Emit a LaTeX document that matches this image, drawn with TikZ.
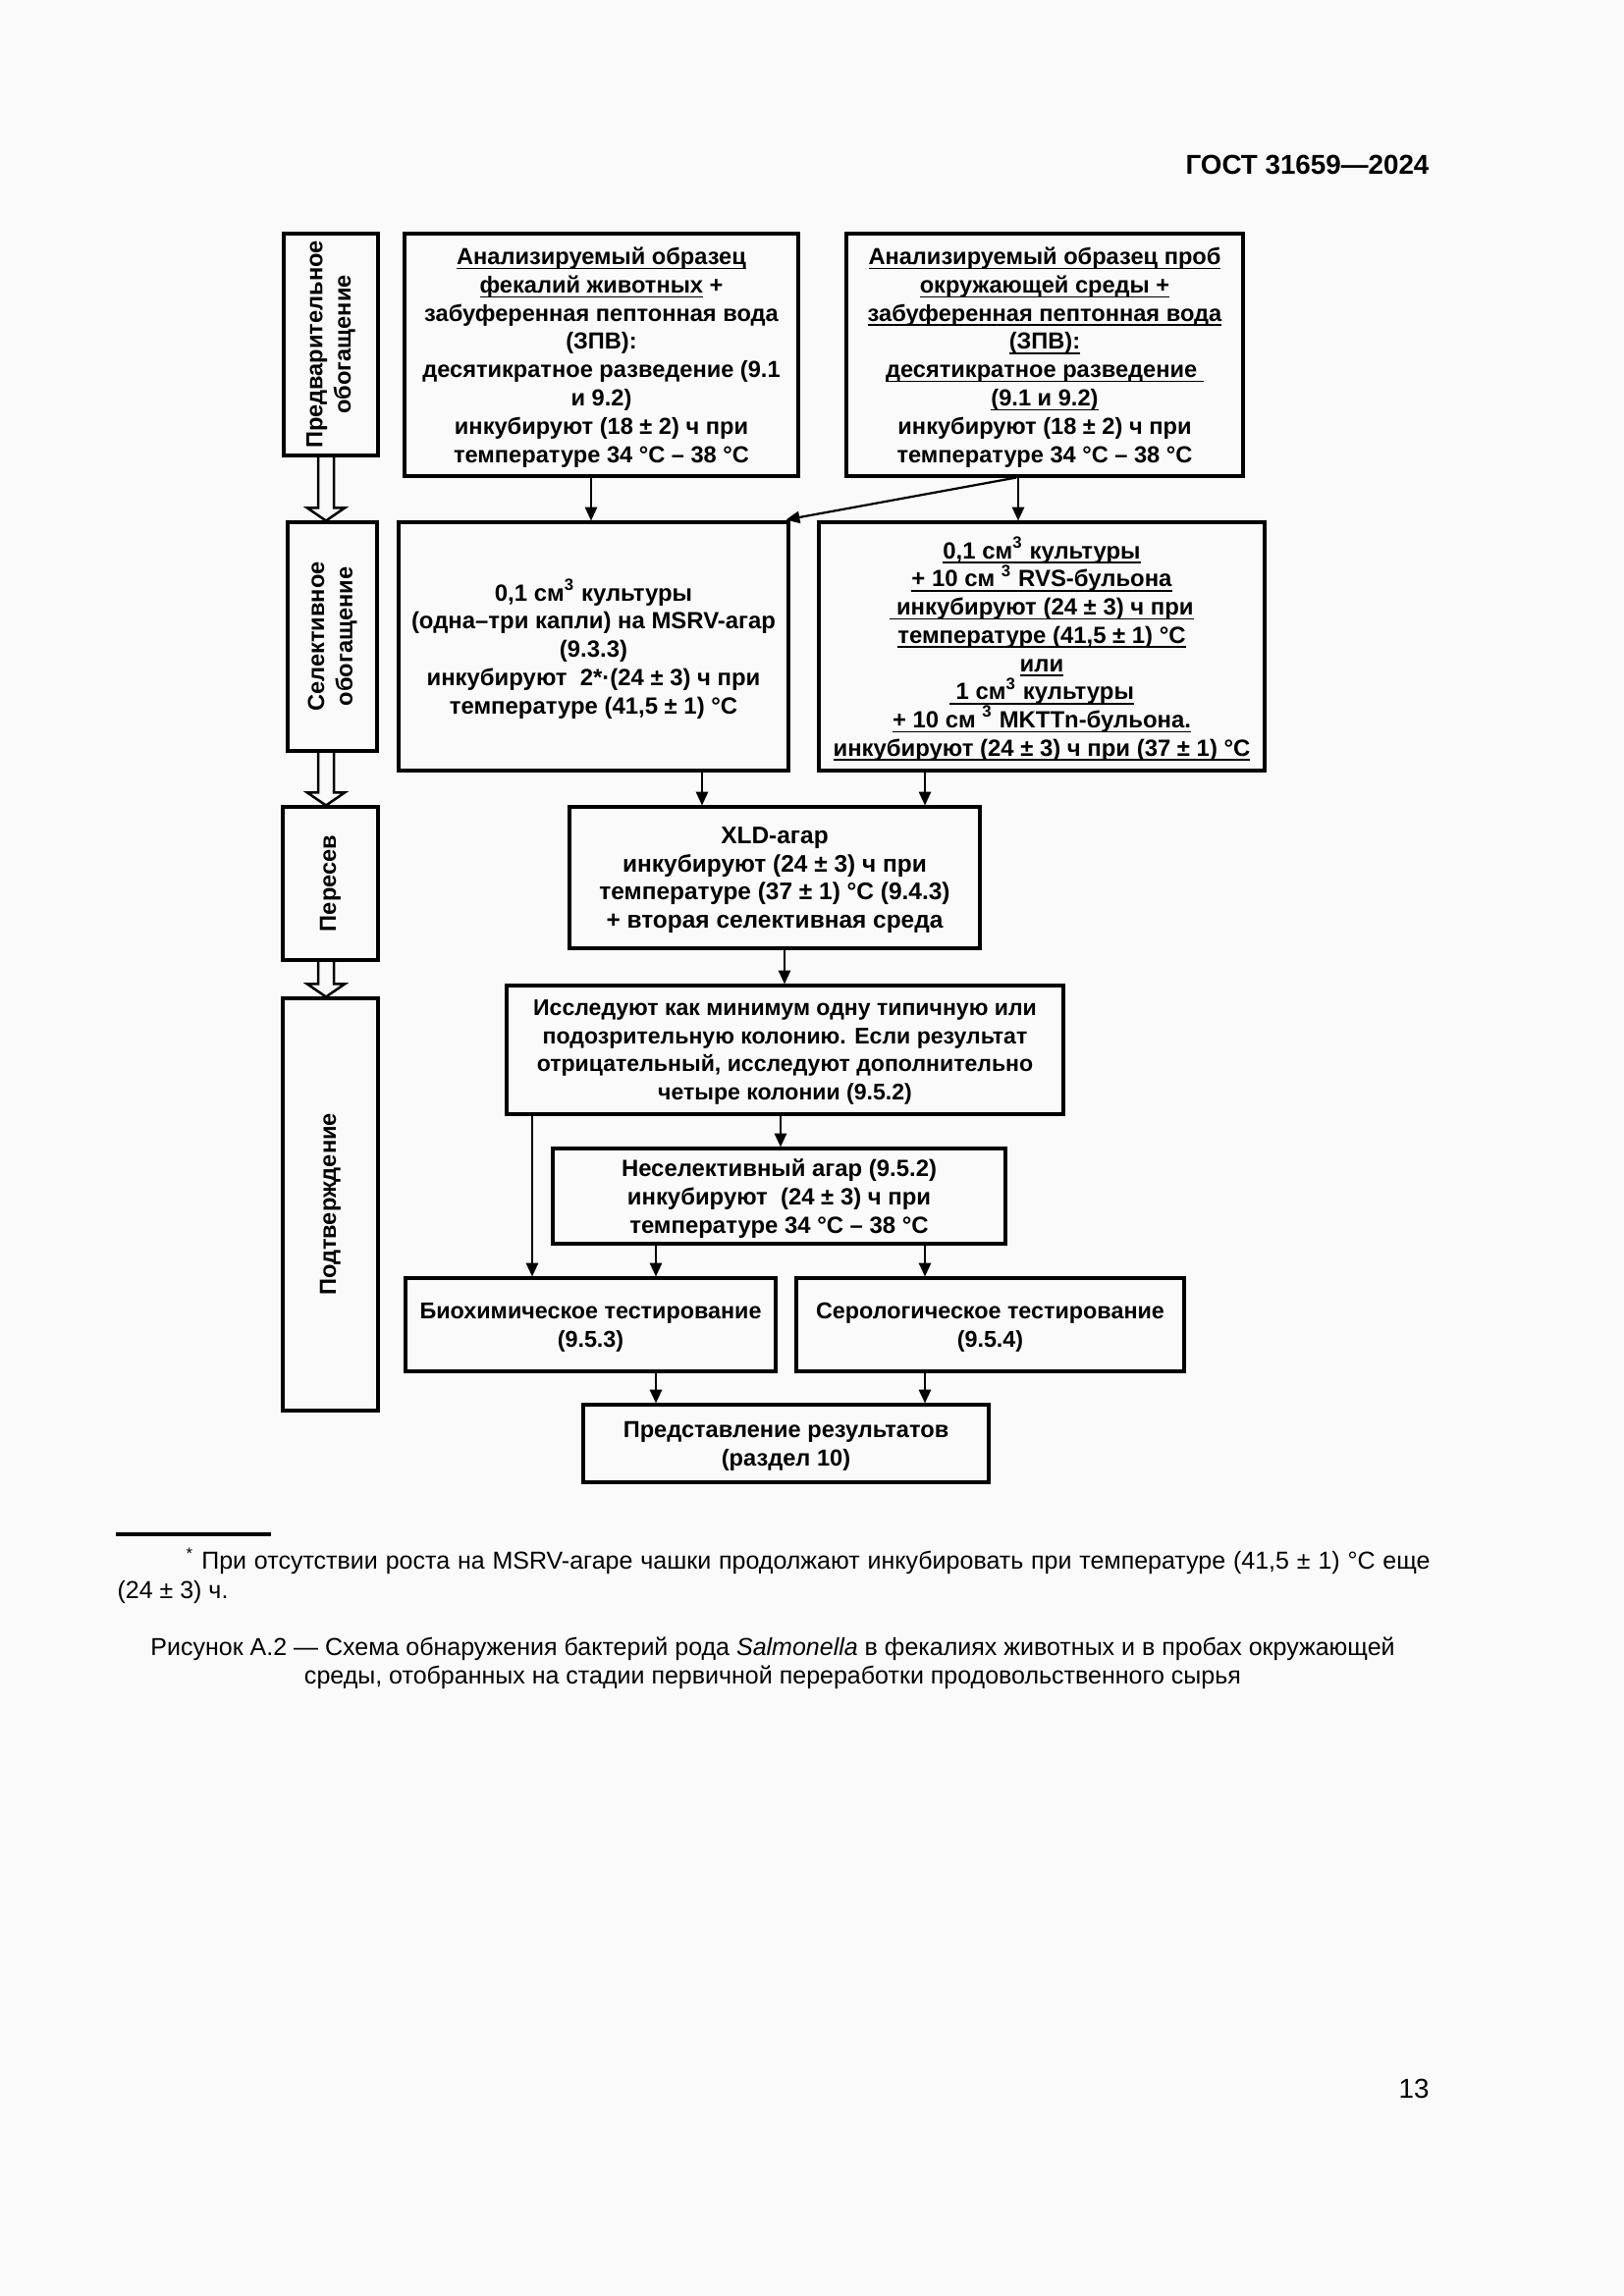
\documentclass[tikz,border=0pt]{standalone}
\usepackage{fontspec}
\setmainfont{Liberation Sans}
\usetikzlibrary{fit,calc,arrows.meta}
\newcommand\uln[1]{\leavevmode\setbox0\hbox{#1}\rlap{\vrule depth 1.7pt height -1.1pt width\wd0}\box0\relax}
\newcommand\fs[1]{\fontsize{#1}{10.35}\selectfont\bfseries}
\begin{document}
\begin{tikzpicture}[x=0.3599pt,y=-0.3599pt,
  box/.style={draw, line width=1.1pt, inner sep=0pt},
  txt/.style={align=center, font=\fs{8.5}, inner sep=0pt},
  htxt/.style={txt, yshift=-0.9pt},
  arr/.style={line width=0.8pt, -{Triangle[length=5pt,width=4.4pt]}},
  dbl/.style={line width=0.9pt, line join=miter},
]
\fill[black!2] (0,0) rectangle (1654,2339);
\useasboundingbox (0,0) rectangle (1654,2339);

% header and page number
\node[anchor=base east, font=\fontsize{10}{12}\selectfont\bfseries, inner sep=0] (hdr) at (1456,177) {ГОСТ 31659—2024};
\node[anchor=base east, font=\fontsize{10}{12}\selectfont, inner sep=0] (pg) at (1456,2137) {13};

% left column
\node[box, fit={(289,238)(385,464)}] (L1) {};
\node[txt, rotate=90] (L1t) at (L1.center) {Предварительное\\обогащение};
\node[box, fit={(293,532)(384,765)}] (L2) {};
\node[txt, rotate=90] (L2t) at (L2.center) {Селективное\\обогащение};
\node[box, fit={(288,822)(385,978)}] (L3) {};
\node[txt, rotate=90] (L3t) at (L3.center) {Пересев};
\node[box, fit={(288,1017)(385,1437)}] (L4) {};
\node[txt, rotate=90] (L4t) at (L4.center) {Подтверждение};

\coordinate (dx) at (332,0);
\newcommand\hollowarrow[2]{%
  \draw[dbl] ($(dx |- #1.south)+(-8,0)$) -- ($(dx |- #2.north)+(-8,-13)$) -- ($(dx |- #2.north)+(-19,-13)$) -- (dx |- #2.north) -- ($(dx |- #2.north)+(19,-13)$) -- ($(dx |- #2.north)+(8,-13)$) -- ($(dx |- #1.south)+(8,0)$);}
\hollowarrow{L1}{L2}
\hollowarrow{L2}{L3}
\hollowarrow{L3}{L4}

% main boxes
\node[box, fit={(412,238)(813,485)}] (A) {};
\node[htxt] (At) at (A.center) {\uln{Анализируемый образец}\\
\uln{фекалий животных} +\\
забуференная пептонная вода\\
(ЗПВ):\\
десятикратное разведение (9.1\\
и 9.2)\\
инкубируют (18 ± 2) ч при\\
температуре 34 °C – 38 °C};

\node[box, fit={(862,238)(1266,485)}] (B) {};
\node[htxt] (Bt) at (B.center) {\uln{Анализируемый образец проб}\\
\uln{окружающей среды +}\\
\uln{забуференная пептонная вода}\\
\uln{(ЗПВ):}\\
\uln{десятикратное разведение\ }\\
\uln{(9.1 и 9.2)}\\
инкубируют (18 ± 2) ч при\\
температуре 34 °C – 38 °C};

\node[box, fit={(406,532)(803,785)}] (C) {};
\node[htxt, font=\fs{8.6}] (Ct) at (C.center) {0,1 см\textsuperscript{3} культуры\\
(одна–три капли) на MSRV-агар\\
(9.3.3)\\
инкубируют\ \ 2*·(24 ± 3) ч при\\
температуре (41,5 ± 1) °C};

\node[box, fit={(834,532)(1288,785)}] (D) {};
\node[htxt, font=\fs{8.6}] (Dt) at (D.center) {\uln{0,1 см\textsuperscript{3} культуры}\\
\uln{+ 10 см \textsuperscript{3} RVS-бульона}\\
\uln{\ инкубируют (24 ± 3) ч при}\\
\uln{температуре (41,5 ± 1) °C}\\
\uln{или}\\
\uln{\ 1 см\textsuperscript{3} культуры}\\
\uln{+ 10 см \textsuperscript{3} MKTTn-бульона.}\\
\uln{инкубируют (24 ± 3) ч при (37 ± 1) °C}};

\node[box, fit={(580,822)(998,966)}] (E) {};
\node[htxt, font=\fs{8.8}] (Et) at (E.center) {XLD-агар\\
инкубируют (24 ± 3) ч при\\
температуре (37 ± 1) °C (9.4.3)\\
+ вторая селективная среда};

\node[box, fit={(516,1004)(1083,1135)}] (F) {};
\node[htxt, font=\fs{8.3}] (Ft) at (F.center) {Исследуют как минимум одну типичную или\\
подозрительную колонию. Если результат\\
отрицательный, исследуют дополнительно\\
четыре колонии (9.5.2)};

\node[box, fit={(563,1170)(1024,1267)}] (G) {};
\node[htxt, font=\fs{8.6}] (Gt) at (G.center) {Неселективный агар (9.5.2)\\
инкубируют\ \ (24 ± 3) ч при\\
температуре 34 °C – 38 °C};

\node[box, fit={(413,1302)(790,1397)}] (H) {};
\node[htxt, font=\fs{8.4}] (Ht) at (H.center) {Биохимическое тестирование\\(9.5.3)};
\node[box, fit={(811,1302)(1206,1397)}] (I) {};
\node[htxt, font=\fs{8.4}] (It) at (I.center) {Серологическое тестирование\\(9.5.4)};
\node[box, fit={(594,1431)(1007,1510)}] (J) {};
\node[htxt, font=\fs{8.5}] (Jt) at (J.center) {Представление результатов\\(раздел 10)};

% arrow x positions
\coordinate (xa) at (602,0);
\coordinate (xb) at (1037,0);
\coordinate (xc) at (715,0);
\coordinate (xd) at (942,0);
\coordinate (xe) at (799,0);
\coordinate (xf) at (795,0);
\coordinate (xg) at (542,0);
\coordinate (xh) at (668,0);

\draw[arr] (A.south -| xa) -- (C.north -| xa);
\draw[arr] (B.south -| xb) -- (D.north -| xb);
\draw[arr] ($(B.south -| xb)+(-2,0)$) -- ($(C.north east)+(-4,-1)$);
\draw[arr] (C.south -| xc) -- (E.north -| xc);
\draw[arr] (D.south -| xd) -- (E.north -| xd);
\draw[arr] (E.south -| xe) -- (F.north -| xe);
\draw[arr] (F.south -| xf) -- (G.north -| xf);
\draw[arr] (F.south -| xg) -- (H.north -| xg);
\draw[arr] (G.south -| xh) -- (H.north -| xh);
\draw[arr] (G.south -| xd) -- (I.north -| xd);
\draw[arr] (H.south -| xh) -- (J.north -| xh);
\draw[arr] (I.south -| xd) -- (J.north -| xd);

% footnote
\coordinate (fr1) at (118,1563);
\coordinate (fr2) at (276,1563);
\draw[line width=1.1pt] (fr1) -- (fr2);
\node[anchor=north west, text width=481.2pt, align=justify, inner sep=0pt, font=\fontsize{9}{10.7}\selectfont] (fn) at (119,1576) {\noindent\hspace*{25.2pt}\textsuperscript{*} При отсутствии роста на MSRV-агаре чашки продолжают инкубировать при температуре (41,5 ± 1) °C еще\linebreak (24 ± 3) ч.};

% caption
\node[anchor=north, align=center, inner sep=0pt, font=\fontsize{9}{10.7}\selectfont] (cap) at (787,1667) {Рисунок А.2 — Схема обнаружения бактерий рода \textit{Salmonella} в фекалиях животных и в пробах окружающей\\среды, отобранных на стадии первичной переработки продовольственного сырья};
\end{tikzpicture}
\end{document}
